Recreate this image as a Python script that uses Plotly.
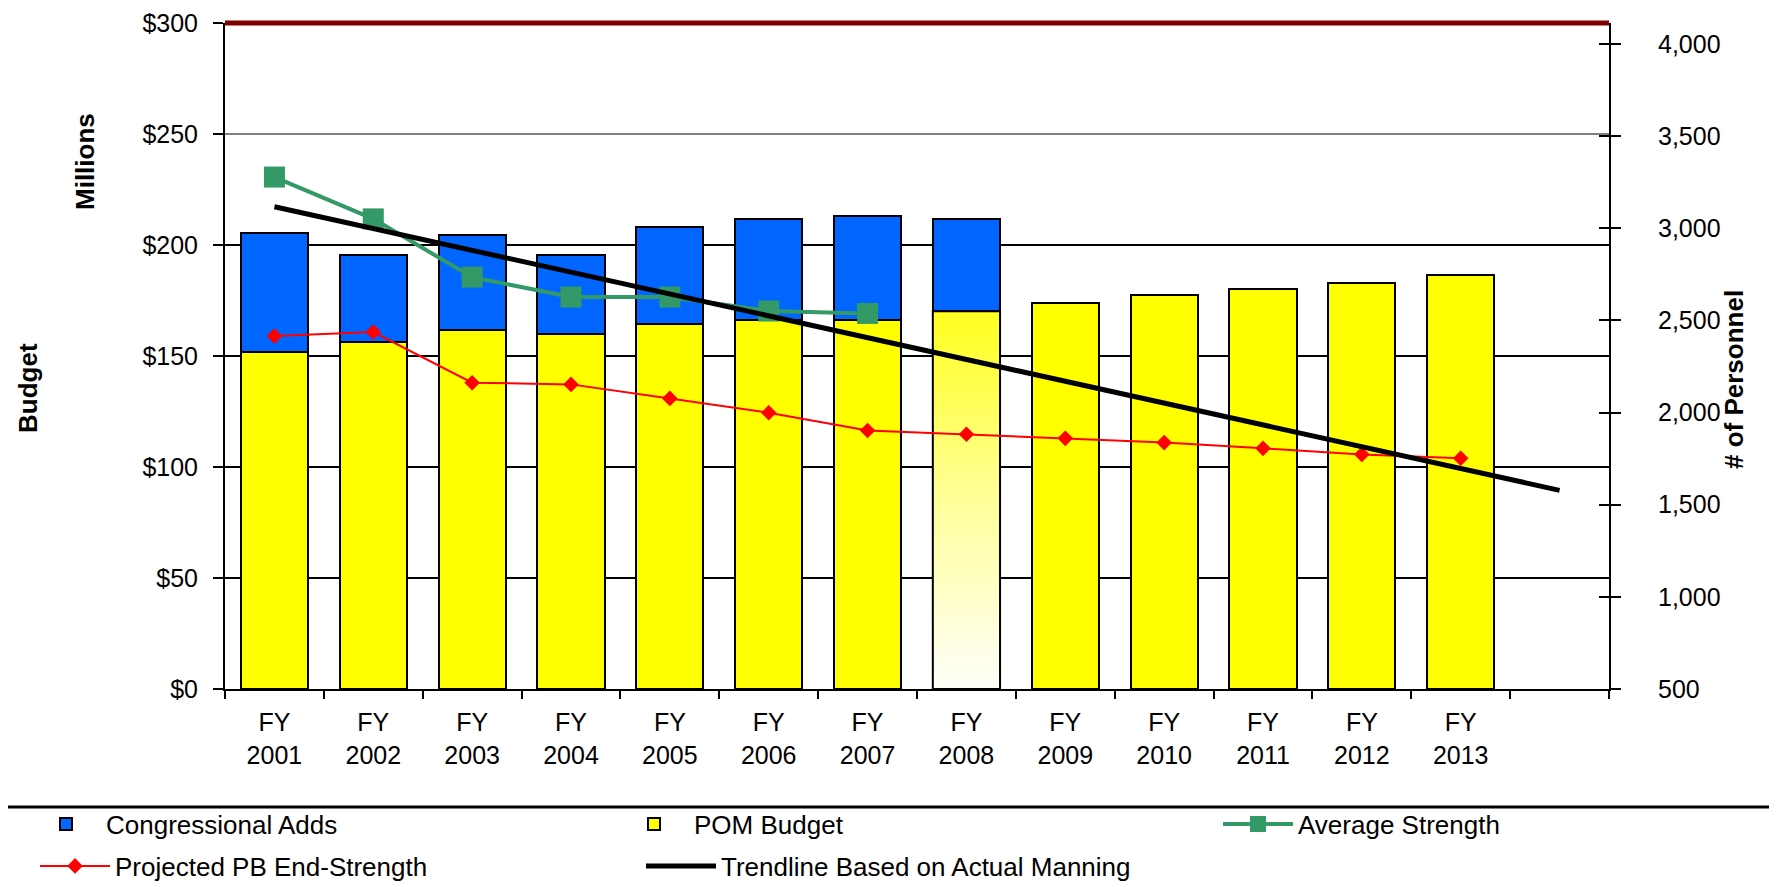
import plotly.graph_objects as go

# ---------------- data ----------------
years = ["2001", "2002", "2003", "2004", "2005", "2006", "2007",
         "2008", "2009", "2010", "2011", "2012", "2013"]
slot_labels = [f"FY<br>{y}" for y in years] + [""]   # 14th slot is empty

pom_budget = [151.9, 156.4, 161.9, 159.8, 164.6, 166.4, 166.4,
              170.2, 173.7, 177.4, 180.0, 182.7, 186.5]
congressional_adds = [53.3, 39.1, 42.6, 35.7, 43.3, 45.3, 46.8,
                      41.5, None, None, None, None, None]
average_strength = [3278, 3051, 2735, 2627, 2627, 2551, 2538]
projected_pb_end_strength = [2415, 2437, 2162, 2153, 2077, 1999, 1903,
                             1882, 1860, 1837, 1806, 1773, 1752]
trend_values = [3117, 1578]          # trendline at first and last slot
highlight_year = "2008"              # bar drawn with a fading fill

budget_ticks = [0, 50, 100, 150, 200, 250, 300]
budget_labels = [f"${v}" for v in budget_ticks]
personnel_ticks = [500, 1000, 1500, 2000, 2500, 3000, 3500, 4000]

# ---------------- styling ----------------
FONT = "Liberation Sans, Arial, sans-serif"
BAR_W = 0.68
BLUE = "#0066FF"
YELLOW = "#FFFF00"
GREEN = "#339966"
RED = "#FF0000"
DARKRED = "#800000"
GRID_COLOR_OVERRIDES = {250: "#808080"}
W, H = 1777, 887
ML, MR, MT, MB = 217, 176, 15, 206
PW, PH = W - ML - MR, H - MT - MB

idx = list(range(len(years)))
slots = list(range(len(slot_labels)))
trend_x = [slots[0], slots[-1]]

fig = go.Figure()

fig.add_trace(go.Bar(
    x=idx, y=pom_budget, name="POM Budget", width=BAR_W,
    marker=dict(color=YELLOW, line=dict(color="black", width=2)),
    legend="legend2", hoverinfo="skip"))
fig.add_trace(go.Bar(
    x=idx, y=congressional_adds, name="Congressional Adds", width=BAR_W,
    marker=dict(color=BLUE, line=dict(color="black", width=2)),
    legend="legend", hoverinfo="skip"))

# gradient overlay for the highlighted year's POM bar
hi = years.index(highlight_year)
hv = pom_budget[hi]
fig.add_trace(go.Scatter(
    x=[hi - BAR_W / 2, hi + BAR_W / 2, hi + BAR_W / 2, hi - BAR_W / 2, hi - BAR_W / 2],
    y=[0, 0, hv, hv, 0],
    mode="lines", fill="toself",
    fillgradient=dict(type="vertical",
                      colorscale=[[0, "#FFFFFA"], [0.5, "#FFFF99"], [1, "#FFFF20"]]),
    line=dict(color="black", width=2),
    showlegend=False, hoverinfo="skip"))

fig.add_trace(go.Scatter(
    x=idx[:len(average_strength)], y=average_strength, name="Average Strength",
    yaxis="y2", mode="lines+markers",
    line=dict(color=GREEN, width=4),
    marker=dict(symbol="square", size=21, color=GREEN),
    legend="legend3", hoverinfo="skip"))
fig.add_trace(go.Scatter(
    x=idx, y=projected_pb_end_strength, name="Projected PB End-Strength",
    yaxis="y2", mode="lines+markers",
    line=dict(color=RED, width=2),
    marker=dict(symbol="diamond", size=12, color=RED),
    legend="legend4", hoverinfo="skip"))
fig.add_trace(go.Scatter(
    x=trend_x, y=trend_values, name="Trendline Based on Actual Manning",
    yaxis="y3", mode="lines",
    line=dict(color="black", width=5),
    legend="legend5", hoverinfo="skip"))

P_RANGE = [500, 4114]


def legend_at(x_px, y_px):
    return dict(
        orientation="v", xref="container", yref="container",
        xanchor="left", yanchor="middle", x=x_px / W, y=1 - y_px / H,
        itemwidth=70,
        font=dict(family=FONT, size=26, color="black"),
        bgcolor="rgba(0,0,0,0)")


fig.update_layout(
    width=W, height=H,
    margin=dict(l=ML, r=MR, t=MT, b=MB, autoexpand=False),
    plot_bgcolor="white", paper_bgcolor="white",
    barmode="stack",
    font=dict(family=FONT, size=25, color="black"),
    xaxis=dict(
        range=[-0.5, len(slots) - 0.5], tickvals=slots, ticktext=slot_labels,
        ticks="", showgrid=False, zeroline=False,
        showline=True, linecolor="black", linewidth=2,
        ticklabelstandoff=10,
        minor=dict(tickvals=[s - 0.5 for s in slots] + [slots[-1] + 0.5],
                   ticks="outside", ticklen=8, tickwidth=2,
                   tickcolor="black", showgrid=False)),
    yaxis=dict(
        range=[0, 300], tickvals=budget_ticks, ticktext=budget_labels,
        showgrid=False,
        ticks="outside", ticklen=10, tickwidth=2, tickcolor="black",
        showline=True, linecolor="black", linewidth=2, zeroline=False,
        ticklabelstandoff=10),
    yaxis2=dict(
        overlaying="y", side="right", range=P_RANGE,
        tickvals=personnel_ticks, tickformat=",d",
        ticks="outside", ticklen=10, tickwidth=2, tickcolor="black",
        showline=True, linecolor="black", linewidth=2,
        showgrid=False, zeroline=False, ticklabelstandoff=32),
    yaxis3=dict(
        overlaying="y", side="right", range=P_RANGE,
        tickvals=personnel_ticks, showticklabels=False,
        ticks="inside", ticklen=10, tickwidth=2, tickcolor="black",
        showline=False, showgrid=False, zeroline=False),
    legend=legend_at(18, 816),     # Congressional Adds
    legend2=legend_at(606, 816),   # POM Budget
    legend3=legend_at(1210, 816),  # Average Strength
    legend4=legend_at(27, 858),    # Projected PB End-Strength
    legend5=legend_at(633, 858),   # Trendline
    showlegend=True,
)

# horizontal grid lines of the budget axis (between $0 and the top border)
for v in budget_ticks[1:-1]:
    fig.add_shape(type="line", xref="paper", yref="y", x0=0, x1=1, y0=v, y1=v,
                  line=dict(color=GRID_COLOR_OVERRIDES.get(v, "black"), width=2),
                  layer="below")
# top border in dark red
fig.add_shape(type="line", xref="paper", yref="paper", x0=0, x1=1, y0=1, y1=1,
              line=dict(color=DARKRED, width=5))
# legend separator lines
fig.add_shape(type="line", xref="paper", yref="paper",
              x0=-ML / PW, x1=(W - ML) / PW,
              y0=(MT + PH - 799) / PH, y1=(MT + PH - 799) / PH,
              line=dict(color="black", width=3))
fig.add_shape(type="line", xref="paper", yref="paper",
              x0=-ML / PW, x1=(W - ML) / PW,
              y0=(MT + PH - 885.5) / PH, y1=(MT + PH - 885.5) / PH,
              line=dict(color="#A0A0A0", width=2))

# axis titles
title_font = dict(family=FONT, size=26, color="black")


def add_vtitle(text, x_px, y_px):
    fig.add_annotation(text=f"<b>{text}</b>", xref="paper", yref="paper",
                       x=(x_px - ML) / PW, y=(MT + PH - y_px) / PH,
                       xanchor="center", yanchor="middle",
                       textangle=-90, showarrow=False, font=title_font)


add_vtitle("Budget", 20, 380)
add_vtitle("Millions", 77, 154)
add_vtitle("# of Personnel", 1726, 371)

fig.write_html("out.html")
